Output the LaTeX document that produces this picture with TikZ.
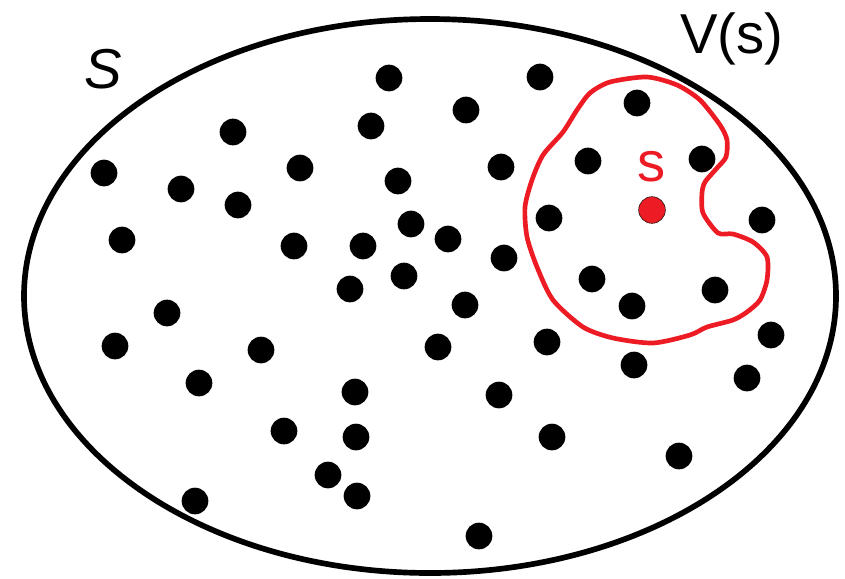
\documentclass[tikz,border=0pt]{standalone}
\usepackage{fontspec}
\setmainfont{Liberation Sans}
\usepackage{tikz}
\usetikzlibrary{positioning}
\definecolor{vred}{HTML}{ED1C24}
\tikzset{>=latex}
\tikzset{dot/.style={circle, fill=black, inner sep=0pt, minimum size=0.8cm},
  sdot/.style={circle, fill=vred, draw=black, thin, inner sep=0pt, minimum size=0.8cm},
  lbl/.style={font=\fontsize{48}{50}\selectfont, inner sep=0pt}}

\begin{document}
\begin{tikzpicture}[x=0.03cm, y=-0.03cm]
  \useasboundingbox (0,0) rectangle (845,578);
  % the set S
  \draw[line width=0.17cm] (430,296) ellipse [x radius=406, y radius=277];
  \node[lbl, anchor=base] (lS) at (103,88) {\itshape S};
  \node[lbl, anchor=base] (lV) at (732,53) {V(s)};
  % neighbourhood V(s)
  \draw[vred, line width=0.14cm] plot[smooth cycle, tension=0.45] coordinates {
    (610,82) (647,77) (677,85) (700,100) (720,125) (727,140) (726,157)
    (717,168) (705,182) (702,193) (703,213) (718,233) (733,234) (753,242)
    (767,257) (767,280) (760,300) (747,312) (733,320) (707,327) (690,335)
    (653,343) (613,338) (583,327) (553,300) (537,267) (527,237) (525,207)
    (532,180) (543,155) (563,132) (577,110) (590,93)};
  % points of S
  \foreach \x/\y [count=\i] in {389/78, 540/77, 637/103, 466/110, 371/126,
      233/132, 104/173, 181/189, 300/168, 398/181, 501/167, 588/161,
      702/159, 238/205, 411/224, 448/239, 549/218, 762/220, 122/240,
      294/246, 363/246, 504/258, 404/276, 350/289, 592/279, 632/306,
      715/290, 465/305, 167/313, 115/346, 261/350, 438/347, 547/342,
      771/335, 634/365, 747/378, 199/383, 355/392, 499/395, 284/431,
      356/437, 552/437, 679/456, 328/475, 357/496, 195/501, 479/536}
    \node[dot] (p\i) at (\x,\y) {};
  % the point s
  \node[sdot] (s) at (652,210) {};
  \node[lbl, vred, above=0.45cm of s, anchor=base] (ls) {s};
\end{tikzpicture}
\end{document}
